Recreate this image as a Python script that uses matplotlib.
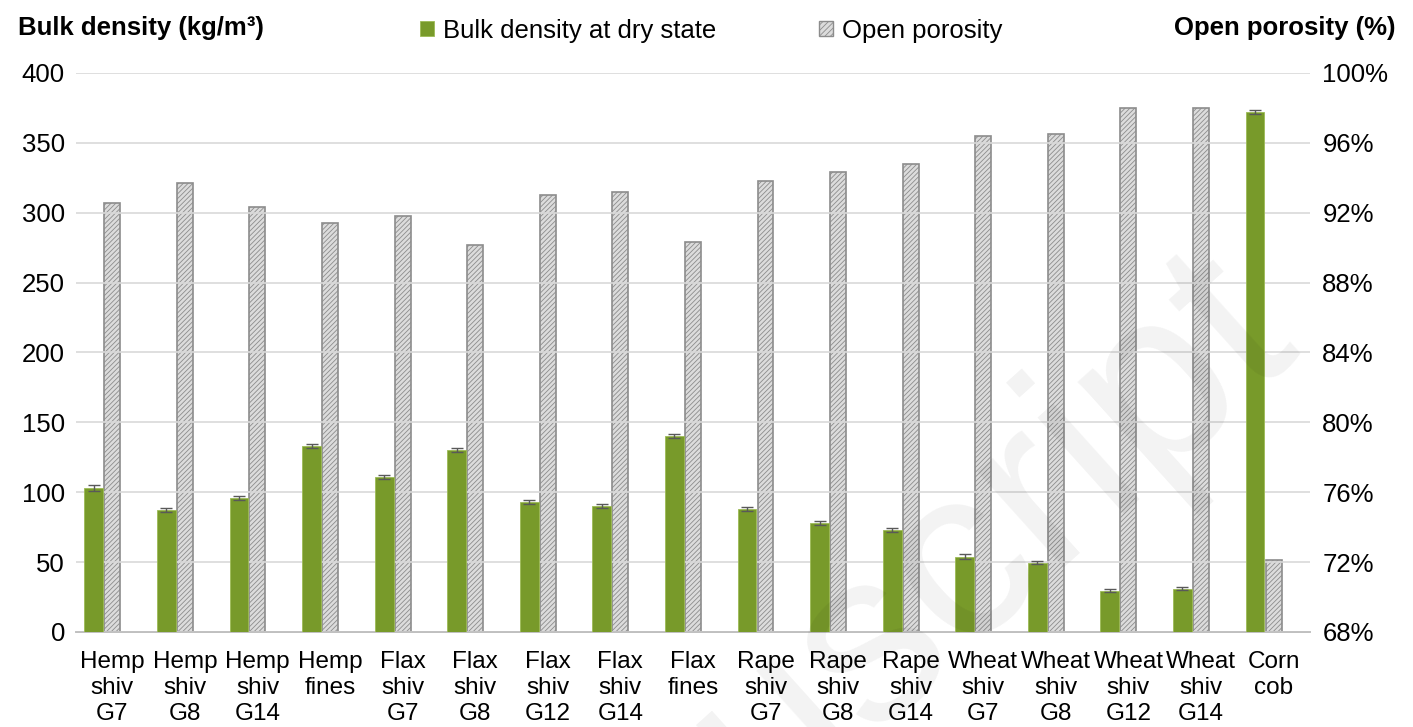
import numpy as np
import matplotlib
matplotlib.use("Agg")
import matplotlib.pyplot as plt
from matplotlib.patches import Patch

plt.rcParams['font.family'] = ['Liberation Sans', 'DejaVu Sans']
plt.rcParams['hatch.linewidth'] = 0.6

# data
categories = ["Hemp\nshiv\nG7", "Hemp\nshiv\nG8", "Hemp\nshiv\nG14", "Hemp\nfines\n",
              "Flax\nshiv\nG7", "Flax\nshiv\nG8", "Flax\nshiv\nG12", "Flax\nshiv\nG14",
              "Flax\nfines\n", "Rape\nshiv\nG7", "Rape\nshiv\nG8", "Rape\nshiv\nG14",
              "Wheat\nshiv\nG7", "Wheat\nshiv\nG8", "Wheat\nshiv\nG12", "Wheat\nshiv\nG14",
              "Corn\ncob\n"]
bulk_density = [103, 87, 96, 133, 111, 130, 93, 90, 140, 88, 78, 73, 54, 49.5, 29.5, 31, 372]
bulk_err = [2, 1.5, 1.5, 1.5, 1.5, 1.5, 1.5, 1.5, 1.5, 1.5, 1.5, 1.5, 1.5, 1.2, 1.2, 1.2, 1.5]
open_porosity = [92.56, 93.68, 92.32, 91.44, 91.84, 90.16, 93.04, 93.2, 90.32,
                 93.84, 94.32, 94.8, 96.4, 96.48, 98.0, 98.0, 72.1]

green = '#789a2a'
grey_fill = '#dcdcdc'
grey_edge = '#8c8c8c'

fig = plt.figure(figsize=(14.13, 7.27), dpi=100)
ax = fig.add_axes([0.0538, 0.1307, 0.8732, 0.7689])
ax2 = ax.twinx()

x = np.arange(len(categories))

ax.bar(x - 0.255, bulk_density, width=0.26, color=green, edgecolor='#9dbb55',
       linewidth=0.6, zorder=3)
ax.errorbar(x - 0.255, bulk_density, yerr=bulk_err, fmt='none', ecolor='#595959',
            elinewidth=1.0, capsize=4, capthick=1.0, zorder=4)

ax2.bar(x, open_porosity, width=0.22, bottom=0, color=grey_fill,
        edgecolor=grey_edge, hatch='///////', linewidth=1.2, zorder=3)

ax.set_xlim(-0.5, len(categories) - 0.5)
ax.set_ylim(0, 400)
ax.set_yticks(np.arange(0, 401, 50))
ax2.set_ylim(68, 100)
ax2.set_yticks(np.arange(68, 101, 4))
ax2.set_yticklabels([f"{v}%" for v in range(68, 101, 4)])

ax.set_xticks(x)
ax.set_xticklabels(categories, fontsize=17.5, linespacing=1.22)

ax.grid(axis='y', color='#d9d9d9', linewidth=1.2, zorder=0)
ax.set_axisbelow(True)
ax.set_zorder(ax2.get_zorder() + 1)
ax.patch.set_visible(False)

for a in (ax, ax2):
    for s in ('top', 'left', 'right'):
        a.spines[s].set_visible(False)
    a.spines['bottom'].set_color('#bfbfbf')
    a.spines['bottom'].set_linewidth(1.2)
    a.tick_params(length=0, labelsize=18.5)
ax.tick_params(axis='y', pad=8)
ax2.tick_params(axis='y', pad=9)
ax.tick_params(axis='x', pad=14, labelsize=17.5)

fig.text(18 / 1413, 0.9615, "Bulk density (kg/m³)", fontsize=18.5, fontweight='bold',
         ha='left', va='center')
fig.text(1395 / 1413, 0.9615, "Open porosity (%)", fontsize=18.5, fontweight='bold',
         ha='right', va='center')

handles = [Patch(facecolor=green, edgecolor='#9dbb55', linewidth=0.6),
           Patch(facecolor=grey_fill, edgecolor=grey_edge, hatch='//////', linewidth=1)]
fig.legend(handles, ["Bulk density at dry state", "Open porosity"], loc='center',
           bbox_to_anchor=(0.5035, 0.958), ncol=2, frameon=False, fontsize=18.5,
           handlelength=0.55, handleheight=0.55, handletextpad=0.35, columnspacing=4.0)

# faint watermark
fig.text(815 / 1413, 1 - 690 / 727, "Manuscript", fontsize=175, color='black',
         alpha=0.05, rotation=42, ha='center', va='center', zorder=10)

plt.savefig("out.png", dpi=100)
